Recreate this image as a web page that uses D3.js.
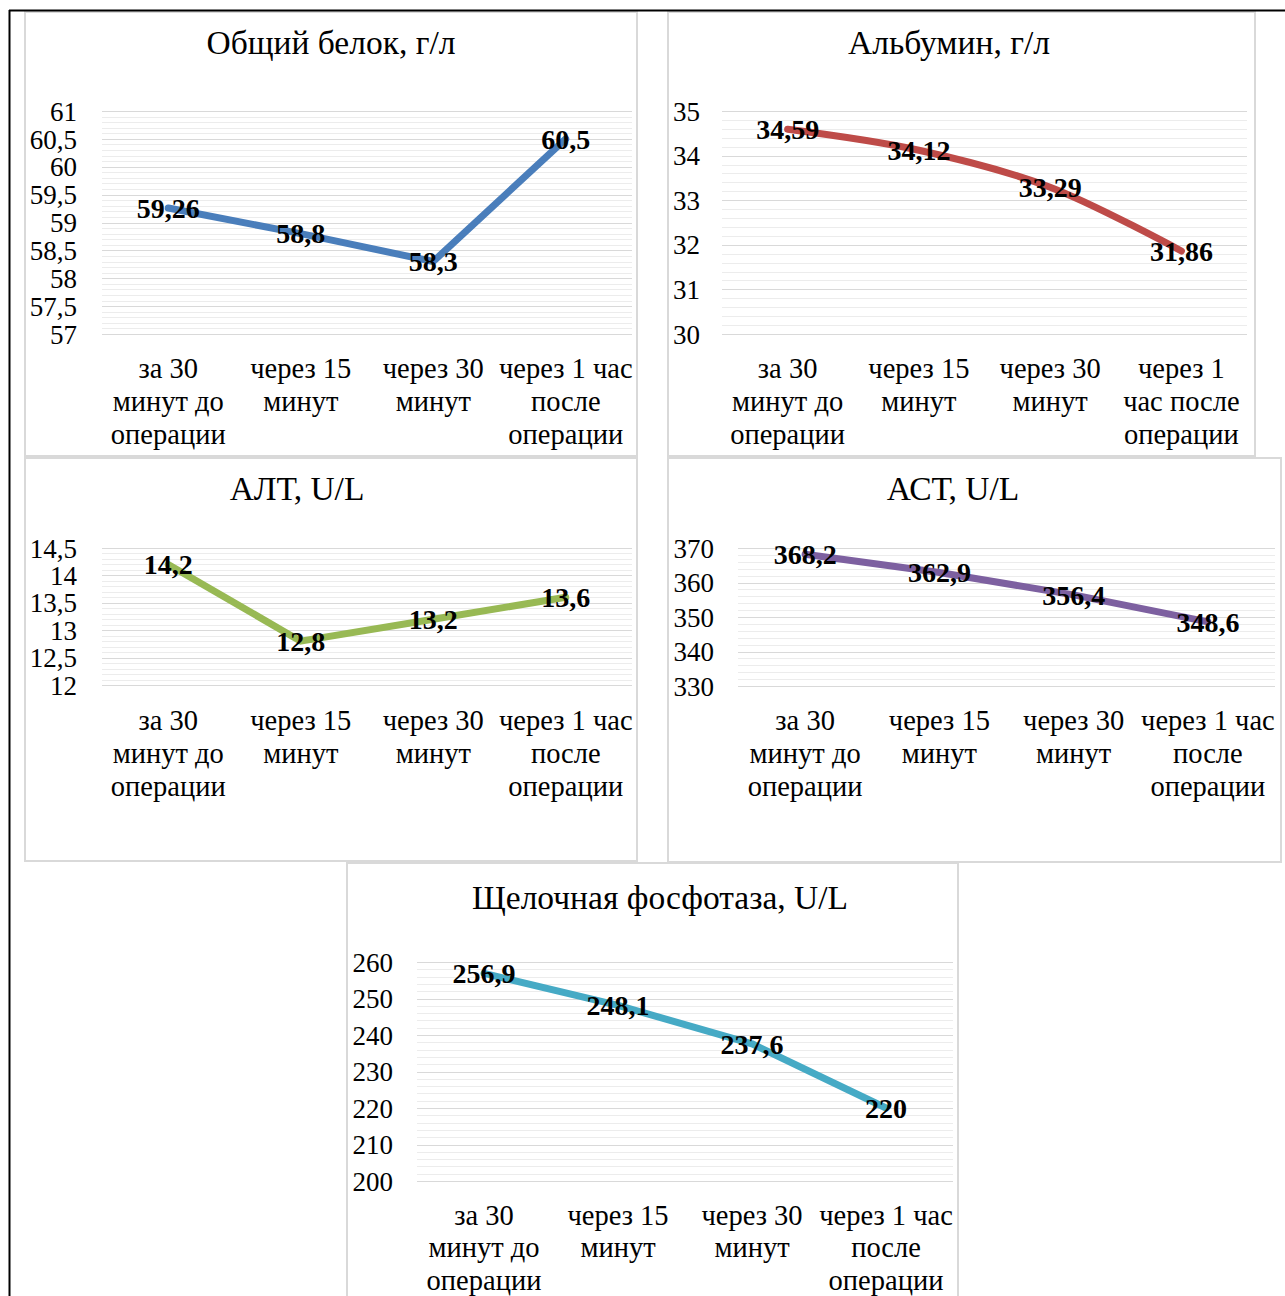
<!DOCTYPE html>
<html>
<head>
<meta charset="utf-8">
<script src="https://cdn.jsdelivr.net/npm/d3@7"></script>
<style>
  html, body { margin: 0; padding: 0; background: #fff; }
  svg { display: block; }
  text { font-family: 'Liberation Serif', 'Times New Roman', serif; fill: #000; }
</style>
</head>
<body>
<svg id="chart" width="1285" height="1296"></svg>
<script>
// Time points (line breaks as shown under each axis)
const categories = ["за 30\nминут до\nоперации", "через 15\nминут", "через 30\nминут", "через 1 час\nпосле\nоперации"];
const categoriesAlbumin = ["за 30\nминут до\nоперации", "через 15\nминут", "через 30\nминут", "через 1\nчас после\nоперации"];

// Measured values per indicator
const totalProtein = [59.26, 58.8, 58.3, 60.5];
const albumin = [34.59, 34.12, 33.29, 31.86];
const alt = [14.2, 12.8, 13.2, 13.6];
const ast = [368.2, 362.9, 356.4, 348.6];
const alkPhos = [256.9, 248.1, 237.6, 220];

// Chart titles
const titles = ["Общий белок, г/л", "Альбумин, г/л", "АЛТ, U/L", "АСТ, U/L", "Щелочная фосфотаза, U/L"];

// Axis ranges: [min, max, major step, minor step]
const axisProtein = [57, 61, 0.5, 0.1];
const axisAlbumin = [30, 35, 1, 0.2];
const axisAlt = [12, 14.5, 0.5, 0.1];
const axisAst = [330, 370, 10, 2];
const axisAlkPhos = [200, 260, 10, 2];

const colors = ["#4A7EBB", "#BE4B48", "#98B954", "#7D60A0", "#46AAC5"];

const FONT = "'Liberation Serif', 'Times New Roman', serif";

// Panel geometry
const panels = [
  { box: [25, 12, 637, 456],  px: [102, 632], py: [111, 334], tickX: 77,  titleX: 331, titleY: 42,  catY: 368,  lineGap: 33,   values: totalProtein, axis: axisProtein, cats: categories, smooth: false },
  { box: [668, 12, 1255, 456], px: [722, 1247], py: [111, 334], tickX: 700, titleX: 949, titleY: 42,  catY: 368,  lineGap: 33,   values: albumin, axis: axisAlbumin, cats: categoriesAlbumin, smooth: true },
  { box: [25, 458, 637, 861], px: [102, 632], py: [548, 685], tickX: 77,  titleX: 297, titleY: 488, catY: 720,  lineGap: 33,   values: alt, axis: axisAlt, cats: categories, smooth: false },
  { box: [668, 458, 1281, 862], px: [738, 1275], py: [548, 686], tickX: 714, titleX: 953, titleY: 488, catY: 720, lineGap: 33,   values: ast, axis: axisAst, cats: categories, smooth: false },
  { box: [347, 863, 958, 1302], px: [417, 953], py: [962, 1181], tickX: 393, titleX: 660, titleY: 897, catY: 1215, lineGap: 32.5, values: alkPhos, axis: axisAlkPhos, cats: categories, smooth: false }
];

const svg = d3.select("#chart");
svg.append("rect").attr("width", 1285).attr("height", 1296).attr("fill", "#fff");

const comma = v => String(+v.toFixed(4)).replace(".", ",");

panels.forEach((p, i) => {
  const g = svg.append("g").attr("font-family", FONT);
  const [x0, y0, x1, y1] = p.box;

  g.append("rect")
    .attr("x", x0).attr("y", y0)
    .attr("width", x1 - x0).attr("height", y1 - y0)
    .attr("fill", "#fff").attr("stroke", "#d9d9d9").attr("stroke-width", 2);

  const [mn, mx, major, minor] = p.axis;
  const y = d3.scaleLinear().domain([mn, mx]).range([p.py[1], p.py[0]]);
  const x = d3.scalePoint().domain(d3.range(p.values.length)).range(p.px).padding(0.5);

  // minor gridlines
  const minorTicks = d3.range(Math.round((mx - mn) / minor) + 1).map(k => mn + k * minor);
  g.append("g").selectAll("line").data(minorTicks).join("line")
    .attr("x1", p.px[0]).attr("x2", p.px[1])
    .attr("y1", d => Math.round(y(d)) + 0.5).attr("y2", d => Math.round(y(d)) + 0.5)
    .attr("stroke", "#ececec").attr("stroke-width", 1);

  // major gridlines
  const majorTicks = d3.range(Math.round((mx - mn) / major) + 1).map(k => mn + k * major);
  g.append("g").selectAll("line").data(majorTicks).join("line")
    .attr("x1", p.px[0]).attr("x2", p.px[1])
    .attr("y1", d => Math.round(y(d)) + 0.5).attr("y2", d => Math.round(y(d)) + 0.5)
    .attr("stroke", "#d9d9d9").attr("stroke-width", 1);

  // value axis labels
  const yAxis = d3.axisLeft(y).tickValues(majorTicks).tickSize(0).tickPadding(0).tickFormat(comma);
  const ax = g.append("g").attr("transform", `translate(${p.tickX},0)`).call(yAxis);
  ax.attr("font-family", FONT).attr("font-size", 27);
  ax.select(".domain").remove();
  ax.selectAll("text").attr("fill", "#000").attr("dy", "0.34em");

  // title
  g.append("text")
    .attr("x", p.titleX).attr("y", p.titleY).attr("dy", "0.35em")
    .attr("text-anchor", "middle").attr("font-size", 33.5)
    .text(titles[i]);

  // category labels
  p.cats.forEach((c, ci) => {
    const t = g.append("text")
      .attr("text-anchor", "middle").attr("font-size", 28.5)
      .attr("x", x(ci)).attr("y", p.catY);
    c.split("\n").forEach((ln, li) => {
      t.append("tspan").attr("x", x(ci)).attr("dy", li === 0 ? "0.35em" : p.lineGap + "px").text(ln);
    });
  });

  // series line
  const line = d3.line()
    .x((d, k) => x(k)).y(d => y(d))
    .curve(p.smooth ? d3.curveCatmullRom.alpha(0.5) : d3.curveLinear);
  g.append("path").datum(p.values)
    .attr("d", line)
    .attr("fill", "none").attr("stroke", colors[i])
    .attr("stroke-width", 7).attr("stroke-linecap", "round").attr("stroke-linejoin", "round");

  // data labels centred on points
  g.append("g").selectAll("text").data(p.values).join("text")
    .attr("x", (d, k) => x(k)).attr("y", d => y(d)).attr("dy", "0.35em")
    .attr("text-anchor", "middle").attr("font-size", 28).attr("font-weight", "bold")
    .text(d => comma(d));
});

// outer frame lines
svg.append("line").attr("x1", 9).attr("x2", 1285).attr("y1", 10.5).attr("y2", 10.5)
  .attr("stroke", "#000").attr("stroke-width", 2);
svg.append("line").attr("x1", 9.5).attr("x2", 9.5).attr("y1", 10).attr("y2", 1296)
  .attr("stroke", "#000").attr("stroke-width", 2);
</script>
</body>
</html>
